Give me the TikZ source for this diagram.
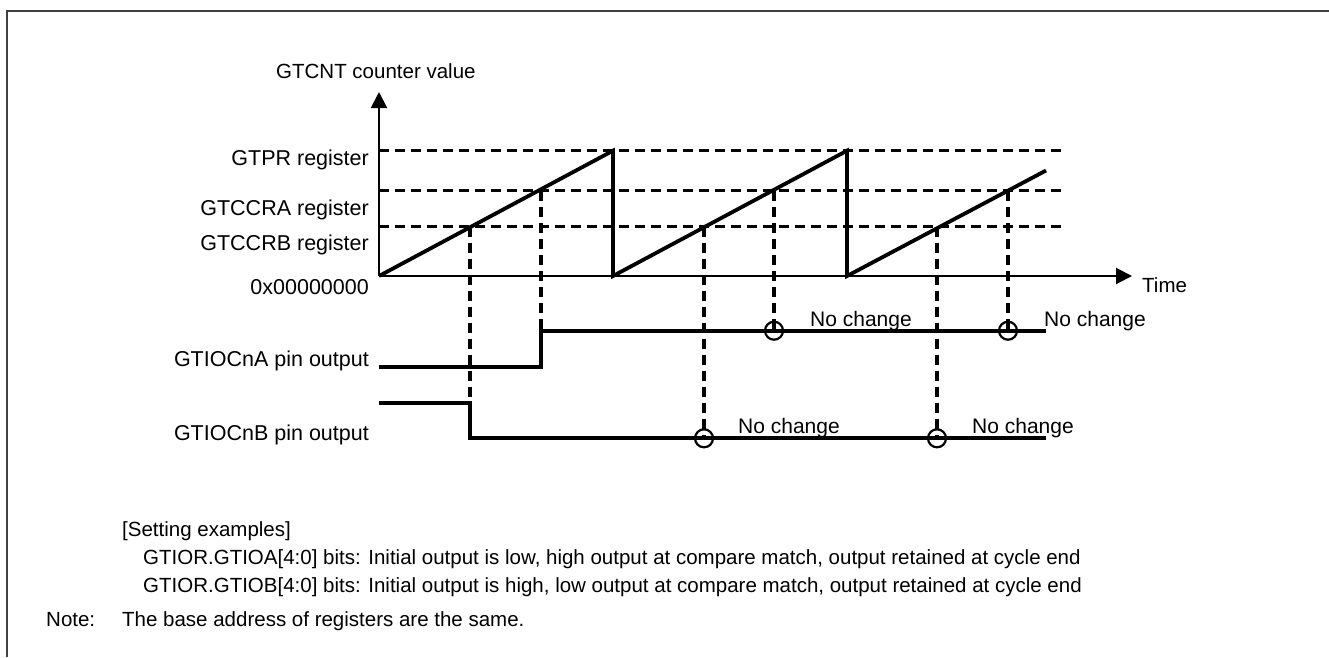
\documentclass[tikz,border=0pt]{standalone}
\usepackage{fontspec}
\setmainfont{Liberation Sans}
\usetikzlibrary{arrows.meta}
\tikzset{
  lbl/.style={font=\fontsize{20.5}{24}\selectfont, inner sep=0pt},
  reglbl/.style={font=\fontsize{21.5}{25}\selectfont, inner sep=0pt, anchor=base east},
  nclbl/.style={font=\fontsize{21}{25}\selectfont, inner sep=0pt, anchor=base west},
  axis/.style={line width=2pt, -{Triangle[length=16pt,width=16pt]}},
  count/.style={line width=3.8pt, line join=miter},
  level/.style={line width=3.2pt, dash pattern=on 10pt off 6pt},
  drop/.style={line width=3.2pt, dash pattern=on 10pt off 6pt},
  pin/.style={line width=3.8pt},
  hold/.style={circle, draw, line width=2.2pt, minimum size=18pt, inner sep=0pt}
}
\begin{document}
\begin{tikzpicture}[x=1pt, y=-1pt]
  \useasboundingbox (0,0) rectangle (1329,657);
  \draw[line width=1.8pt, draw=black!75] (6.7,657) -- (6.7,11) -- (1329,11);

  % register levels
  \foreach \y in {150.7,190.7,226.7}
    \draw[level] (379,\y) -- (1063,\y);

  \coordinate (o) at (379,276);
  \coordinate (ytip) at (379,92);
  \coordinate (xtip) at (1132,276);
  \draw[axis] (o) -- (ytip);
  \draw[axis] (o) -- (xtip);

  % counter
  \draw[count] (o) -- (613,150.7) -- (613,276) -- (847,150.7) -- (847,276) -- (1046,170.5);

  % pin outputs
  \draw[pin] (379,366.7) -- (541,366.7) -- (541,330.7) -- (1046,330.7);
  \draw[pin] (379,403) -- (470,403) -- (470,438.3) -- (1046,438.3);

  % compare match points
  \coordinate (b1) at (470,226.7);
  \coordinate (a1) at (541,190.7);
  \coordinate (b2) at (704,226.7);
  \coordinate (a2) at (774,190.7);
  \coordinate (b3) at (937,226.7);
  \coordinate (a3) at (1008,190.7);
  \coordinate (fallb) at (470,403);
  \coordinate (risea) at (541,330.7);
  \node[hold] (holda2) at (774,330.7) {};
  \node[hold] (holda3) at (1008,330.7) {};
  \node[hold] (holdb2) at (704,438.3) {};
  \node[hold] (holdb3) at (937,438.3) {};

  \draw[drop] (b1) -- (fallb);
  \draw[drop] (a1) -- (risea);
  \draw[drop] (b2) -- (holdb2.center);
  \draw[drop] (a2) -- (holda2.center);
  \draw[drop] (b3) -- (holdb3.center);
  \draw[drop] (a3) -- (holda3.center);

  % labels
  \node[lbl, anchor=base west] (yname) at (276,78.3) {GTCNT counter value};
  \node[reglbl] (gtpr) at (369,165) {GTPR register};
  \node[reglbl] (gtccra) at (369,215) {GTCCRA register};
  \node[reglbl] (gtccrb) at (369,250.7) {GTCCRB register};
  \node[reglbl] (zero) at (369,294) {0x00000000};
  \node[lbl, anchor=base west] (time) at (1142,292.7) {Time};
  \node[reglbl] (pina) at (369,366) {GTIOCnA pin output};
  \node[reglbl] (pinb) at (369,440) {GTIOCnB pin output};

  \node[nclbl] (nca2) at (810,326) {No change};
  \node[nclbl] (nca3) at (1044,326) {No change};
  \node[nclbl] (ncb2) at (738,433) {No change};
  \node[nclbl] (ncb3) at (972,433) {No change};

  \node[lbl, anchor=base west] (setting) at (122,536) {[Setting examples]};
  \node[lbl, anchor=base west] (gtioa) at (143,564) {GTIOR.GTIOA[4:0] bits: Initial output is low, high output at compare match, output retained at cycle end};
  \node[lbl, anchor=base west] (gtiob) at (143,592) {GTIOR.GTIOB[4:0] bits: Initial output is high, low output at compare match, output retained at cycle end};
  \node[lbl, anchor=base west] (note) at (46,626) {Note:};
  \node[lbl, anchor=base west] (notetext) at (122,626) {The base address of registers are the same.};
\end{tikzpicture}
\end{document}
